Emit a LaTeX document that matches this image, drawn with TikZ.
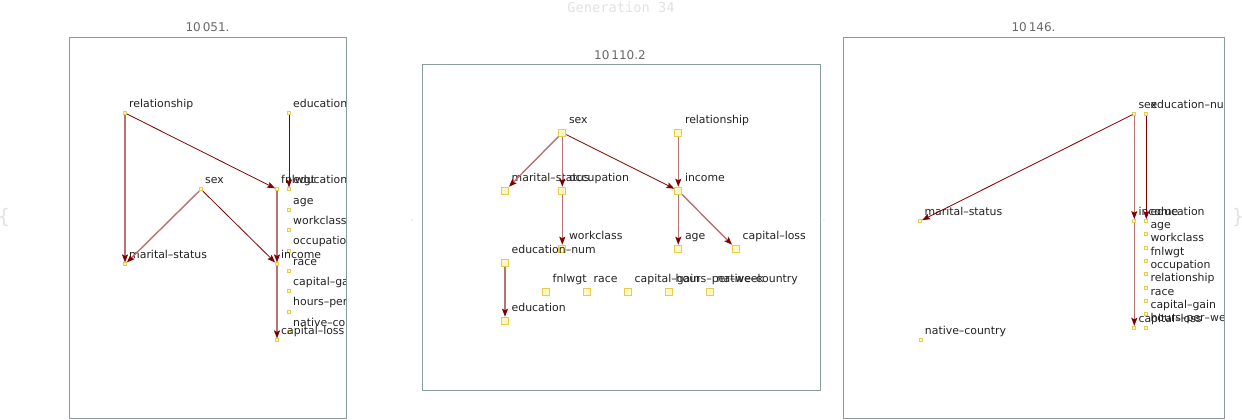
\documentclass[tikz,border=0pt]{standalone}
\usepackage{fontspec}
\setmainfont{DejaVu Sans}
\newfontfamily\genfont{DejaVu Sans Mono}
\usetikzlibrary{positioning,arrows.meta}
\definecolor{boxgray}{RGB}{138,156,156}
\definecolor{arcred}{RGB}{128,0,0}
\definecolor{arcpale}{RGB}{184,114,114}
\definecolor{nodeyel}{RGB}{230,205,75}
\definecolor{nodefill}{RGB}{255,248,196}
\definecolor{txtgray}{RGB}{34,34,34}
\definecolor{ttlgray}{RGB}{104,104,104}
\definecolor{faintgray}{RGB}{226,226,226}
\newcommand\labfont{\fontsize{10.9}{13}\selectfont}

\begin{document}
\begin{tikzpicture}[x=1pt,y=-1pt,
    small/.style={draw=nodeyel, fill=nodefill, line width=0.7pt, minimum size=3pt, inner sep=0pt},
    big/.style={draw=nodeyel, fill=nodefill, line width=0.9pt, minimum size=7pt, inner sep=0pt},
    lab/.style={font=\labfont, text=txtgray, inner sep=0pt, anchor=base west},
    tagA/.style={above right=5.7pt and 4pt of #1.center, lab},
    tagB/.style={above right=9.4pt and 6.5pt of #1.center, lab},
    panel/.style={draw=boxgray, line width=0.8pt},
    ttl/.style={font=\fontsize{12}{14}\selectfont, text=ttlgray},
    faint/.style={text=faintgray, inner sep=0pt},
    dark/.style={draw=arcred, line width=0.8pt, -{Stealth[length=8pt,width=6pt,inset=1.5pt,color=arcred]}},
    pale/.style={draw=arcpale, line width=1.4pt, -{Stealth[length=8pt,width=6pt,inset=1.5pt,color=arcred]}}
]
\useasboundingbox (0,0) rectangle (1242,420);

\node[faint, font=\genfont\fontsize{13.7}{16}\selectfont] (gen) at (621,7.5) {Generation 34};
\node[faint, font=\fontsize{20}{22}\selectfont] (bro) at (4,218) {\{};
\node[faint, font=\fontsize{20}{22}\selectfont] (brc) at (1238,218) {\}};
\node[faint, font=\fontsize{11}{13}\selectfont] (sepa) at (412,220) {,};
\node[faint, font=\fontsize{11}{13}\selectfont] (sepb) at (824,220) {,};

% first network
\node[ttl] (ta) at (207.5,27) {10\hspace{2pt}051.};
\begin{scope}
  \clip (69,37) rectangle (346,418);
  \node[small] (a-rel) at (125,113) {};   \node[tagA=a-rel] (a-rel-t) {relationship};
  \node[small] (a-edn) at (289,113) {};   \node[tagA=a-edn] (a-edn-t) {education–num};
  \node[small] (a-sex) at (201,189.3) {}; \node[tagA=a-sex] (a-sex-t) {sex};
  \node[small] (a-fnl) at (277,189.3) {}; \node[tagA=a-fnl] (a-fnl-t) {fnlwgt};
  \node[small] (a-edu) at (289,189.3) {}; \node[tagA=a-edu] (a-edu-t) {education};
  \node[small] (a-age) at (289,209.7) {}; \node[tagA=a-age] (a-age-t) {age};
  \node[small] (a-wrk) at (289,230.1) {}; \node[tagA=a-wrk] (a-wrk-t) {workclass};
  \node[small] (a-occ) at (289,250.4) {}; \node[tagA=a-occ] (a-occ-t) {occupation};
  \node[small] (a-mar) at (125,264.3) {}; \node[tagA=a-mar] (a-mar-t) {marital–status};
  \node[small] (a-inc) at (277,264.3) {}; \node[tagA=a-inc] (a-inc-t) {income};
  \node[small] (a-race) at (289,270.8) {}; \node[tagA=a-race] (a-race-t) {race};
  \node[small] (a-cg) at (289,291.2) {};  \node[tagA=a-cg] (a-cg-t) {capital–gain};
  \node[small] (a-hpw) at (289,311.6) {}; \node[tagA=a-hpw] (a-hpw-t) {hours–per–week};
  \node[small] (a-nat) at (289,332) {};   \node[tagA=a-nat] (a-nat-t) {native–country};
  \node[small] (a-cl) at (277,340.3) {};  \node[tagA=a-cl] (a-cl-t) {capital–loss};
  \draw[pale] (a-rel) -- (a-mar);
  \draw[dark] (a-rel) -- (a-fnl);
  \draw[dark] (a-edn) -- (a-edu);
  \draw[pale] (a-sex) -- (a-mar);
  \draw[dark] (a-sex) -- (a-inc);
  \draw[pale] (a-fnl) -- (a-inc);
  \draw[pale] (a-inc) -- (a-cl);
\end{scope}
\draw[panel] (69,37) rectangle (346,418);

% second network
\node[ttl] (tb) at (620,55.5) {10\hspace{2pt}110.2};
\begin{scope}
  \clip (422,64) rectangle (820,390);
  \node[big] (b-sex) at (562.3,132.7) {}; \node[tagB=b-sex] (b-sex-t) {sex};
  \node[big] (b-rel) at (678.3,132.7) {}; \node[tagB=b-rel] (b-rel-t) {relationship};
  \node[big] (b-mar) at (505,190.7) {};   \node[tagB=b-mar] (b-mar-t) {marital–status};
  \node[big] (b-occ) at (562.3,190.7) {}; \node[tagB=b-occ] (b-occ-t) {occupation};
  \node[big] (b-inc) at (678.3,190.7) {}; \node[tagB=b-inc] (b-inc-t) {income};
  \node[big] (b-wrk) at (562.3,248.7) {}; \node[tagB=b-wrk] (b-wrk-t) {workclass};
  \node[big] (b-age) at (678.3,248.7) {}; \node[tagB=b-age] (b-age-t) {age};
  \node[big] (b-cl) at (736,248.7) {};    \node[tagB=b-cl] (b-cl-t) {capital–loss};
  \node[big] (b-edn) at (505,262.7) {};   \node[tagB=b-edn] (b-edn-t) {education–num};
  \node[big] (b-fnl) at (546,291.7) {};   \node[tagB=b-fnl] (b-fnl-t) {fnlwgt};
  \node[big] (b-race) at (587,291.7) {};  \node[tagB=b-race] (b-race-t) {race};
  \node[big] (b-cg) at (628,291.7) {};    \node[tagB=b-cg] (b-cg-t) {capital–gain};
  \node[big] (b-hpw) at (669,291.7) {};   \node[tagB=b-hpw] (b-hpw-t) {hours–per–week};
  \node[big] (b-nat) at (710,291.7) {};   \node[tagB=b-nat] (b-nat-t) {native–country};
  \node[big] (b-edu) at (505,320.7) {};   \node[tagB=b-edu] (b-edu-t) {education};
  \draw[pale] (b-sex) -- (b-mar);
  \draw[pale] (b-sex) -- (b-occ);
  \draw[dark] (b-sex) -- (b-inc);
  \draw[pale] (b-rel) -- (b-inc);
  \draw[pale] (b-occ) -- (b-wrk);
  \draw[pale] (b-inc) -- (b-age);
  \draw[pale] (b-inc) -- (b-cl);
  \draw[pale] (b-edn) -- (b-edu);
\end{scope}
\draw[panel] (422,64) rectangle (820,390);

% third network
\node[ttl] (tc) at (1033.5,27) {10\hspace{2pt}146.};
\begin{scope}
  \clip (843,37) rectangle (1224,418);
  \node[small] (c-sex) at (1134.3,113.7) {}; \node[tagA=c-sex] (c-sex-t) {sex};
  \node[small] (c-edn) at (1146.3,113.7) {}; \node[tagA=c-edn] (c-edn-t) {education–num};
  \node[small] (c-mar) at (920.3,221) {};    \node[tagA=c-mar] (c-mar-t) {marital–status};
  \node[small] (c-inc) at (1134.3,221) {};   \node[tagA=c-inc] (c-inc-t) {income};
  \node[small] (c-edu) at (1146.3,221) {};   \node[tagA=c-edu] (c-edu-t) {education};
  \node[small] (c-age) at (1146.3,234.3) {}; \node[tagA=c-age] (c-age-t) {age};
  \node[small] (c-wrk) at (1146.3,247.6) {}; \node[tagA=c-wrk] (c-wrk-t) {workclass};
  \node[small] (c-fnl) at (1146.3,261) {};   \node[tagA=c-fnl] (c-fnl-t) {fnlwgt};
  \node[small] (c-occ) at (1146.3,274.3) {}; \node[tagA=c-occ] (c-occ-t) {occupation};
  \node[small] (c-rel) at (1146.3,287.6) {}; \node[tagA=c-rel] (c-rel-t) {relationship};
  \node[small] (c-race) at (1146.3,301) {};  \node[tagA=c-race] (c-race-t) {race};
  \node[small] (c-cg) at (1146.3,314.3) {};  \node[tagA=c-cg] (c-cg-t) {capital–gain};
  \node[small] (c-hpw) at (1146.3,327.6) {}; \node[tagA=c-hpw] (c-hpw-t) {hours–per–week};
  \node[small] (c-cl) at (1134.3,327.7) {};  \node[tagA=c-cl] (c-cl-t) {capital–loss};
  \node[small] (c-nat) at (920.7,340) {};    \node[tagA=c-nat] (c-nat-t) {native–country};
  \draw[dark] (c-sex) -- (c-mar);
  \draw[pale] (c-sex) -- (c-inc);
  \draw[dark] (c-edn) -- (c-edu);
  \draw[pale] (c-inc) -- (c-cl);
\end{scope}
\draw[panel] (843,37) rectangle (1224,418);
\end{tikzpicture}
\end{document}
